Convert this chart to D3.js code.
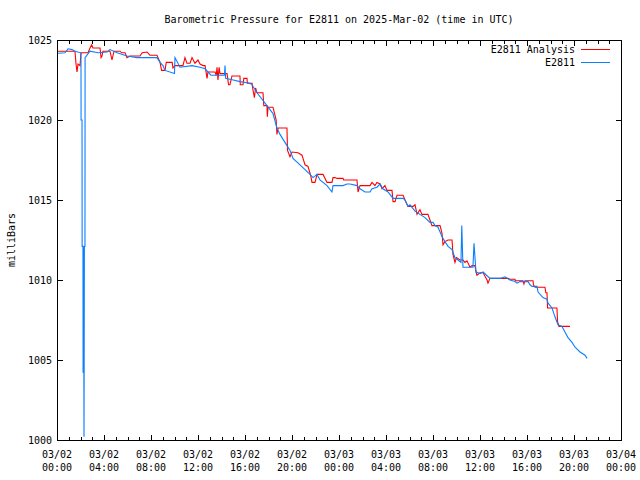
<!DOCTYPE html>
<html><head><meta charset="utf-8">
<script src="https://cdn.jsdelivr.net/npm/d3@7"></script>
<style>
body{margin:0;background:#fff;}
svg{display:block;}
text{font-family:"DejaVu Sans Mono","Liberation Mono",monospace;font-size:10px;fill:#000;}
</style></head>
<body>
<svg id="chart" width="640" height="480"></svg>
<script>
// ---- data ----
const title = "Barometric Pressure for E2811 on 2025-Mar-02 (time in UTC)";
const yLabel = "milliBars";
const seriesNames = ["E2811 Analysis", "E2811"];
const seriesColors = ["#ff0000", "#0a7fff"];
const yTicks = [1000, 1005, 1010, 1015, 1020, 1025];
const xTickHours = [0, 4, 8, 12, 16, 20, 24, 28, 32, 36, 40, 44, 48];
const xTickDates = ["03/02","03/02","03/02","03/02","03/02","03/02","03/03","03/03","03/03","03/03","03/03","03/03","03/04"];
const xTickTimes = ["00:00","04:00","08:00","12:00","16:00","20:00","00:00","04:00","08:00","12:00","16:00","20:00","00:00"];

// hours since 03/02 00:00 UTC, pressure mb
const analysisHours = [0.09,1.53,1.62,1.70,1.79,1.96,2.04,2.64,2.81,2.95,3.06,3.66,3.75,3.83,3.91,4.51,4.68,4.85,5.36,5.5,5.79,5.96,6.21,7.06,7.25,7.66,7.91,8.51,8.77,8.9,9.19,9.3,9.8,9.87,10.04,10.72,10.89,11.06,11.32,11.49,11.74,12.0,12.17,12.43,12.6,12.77,12.85,13.45,13.55,13.62,13.70,13.8,13.87,14.47,14.6,14.72,14.89,15.57,15.6,15.83,15.9,16.17,16.2,16.6,16.65,16.8,16.9,17.02,17.53,17.6,17.87,17.9,17.96,18.38,18.55,18.65,18.72,18.81,19.57,19.62,19.83,20.0,20.51,20.85,21.11,21.36,21.6,21.70,21.96,22.13,22.64,22.98,23.40,23.49,23.66,23.83,24.34,24.4,25.53,25.62,25.79,26.64,26.81,27.06,27.23,27.49,27.66,27.91,28.09,28.51,28.6,28.77,28.94,29.45,29.62,29.87,30.30,30.47,30.64,30.89,31.06,31.57,31.74,31.91,32.60,32.77,32.85,33.02,33.28,33.62,33.70,33.87,34.0,34.30,34.55,34.72,34.89,35.15,35.32,35.57,35.66,35.74,36.0,36.26,36.6,36.68,36.85,38.38,38.55,38.98,39.0,39.66,39.74,39.83,40.51,40.55,40.68,41.53,41.6,41.70,41.75,42.55,42.6,42.72,43.66];
const analysisValues = [1024.3,1024.3,1023.5,1023.0,1023.5,1023.4,1024.2,1024.2,1024.5,1024.7,1024.5,1024.5,1023.9,1024.0,1024.3,1024.3,1023.75,1024.3,1024.3,1024.2,1024.2,1023.9,1024.0,1024.0,1024.2,1024.25,1024.05,1024.05,1023.6,1023.1,1023.1,1023.6,1023.6,1023.25,1023.4,1023.4,1023.9,1023.55,1023.55,1023.9,1023.55,1023.75,1023.5,1023.4,1023.4,1022.6,1023.0,1023.0,1022.8,1023.3,1022.5,1023.3,1022.9,1022.9,1022.2,1022.2,1022.75,1022.75,1022.2,1022.2,1022.6,1022.6,1022.3,1022.3,1022.0,1021.4,1022.0,1021.7,1021.7,1020.9,1020.9,1020.2,1020.8,1020.8,1020.3,1020.0,1019.1,1019.5,1019.5,1018.1,1017.7,1018.0,1017.95,1017.8,1017.2,1017.1,1016.5,1016.1,1016.1,1016.6,1016.6,1016.1,1016.1,1016.4,1016.4,1016.35,1016.35,1016.25,1016.25,1015.5,1015.9,1015.9,1016.1,1015.9,1016.1,1016.0,1015.7,1015.9,1015.6,1015.6,1014.9,1014.9,1015.3,1015.3,1015.0,1014.6,1014.6,1014.7,1014.1,1014.4,1014.1,1014.1,1013.75,1013.4,1013.4,1012.9,1012.2,1012.4,1012.5,1012.5,1011.6,1011.1,1011.4,1011.25,1011.25,1011.1,1011.2,1010.8,1010.9,1010.9,1010.5,1010.3,1010.45,1010.45,1010.0,1009.8,1010.1,1010.1,1010.05,1010.05,1009.95,1009.95,1009.75,1009.95,1009.95,1009.7,1009.55,1009.55,1009.2,1009.2,1008.25,1008.25,1007.4,1007.1,1007.1];

const stationHours = [0.09,0.68,0.94,1.28,1.53,2.04,2.05,2.13,2.14,2.21,2.22,2.26,2.30,2.33,2.38,2.39,2.81,3.5,4.26,4.51,5.11,5.96,6.81,8.51,8.77,9.02,9.19,10.0,10.04,10.47,11.5,12.17,12.6,13.1,13.62,14.25,14.3,14.35,15.0,15.57,16.43,16.6,17.02,17.87,18.38,18.72,18.98,19.57,19.83,20.09,20.68,21.11,21.53,21.79,22.13,22.38,22.98,23.4,23.49,24.34,24.68,24.94,25.53,25.79,26.21,26.64,26.81,27.23,27.49,27.74,28.17,28.6,29.45,29.62,29.87,30.04,30.47,30.89,31.32,31.74,32.0,32.17,32.43,32.6,32.77,33.02,33.28,33.62,33.87,34.13,34.38,34.45,34.55,35.4,35.49,35.66,36.0,36.26,36.85,37.7,38.13,38.55,38.98,39.15,39.4,39.83,40.09,40.26,40.43,40.85,40.94,41.36,41.70,41.79,42.13,42.38,42.64,42.98,43.23,43.49,43.83,44.09,44.51,44.94,45.11];
const stationValues = [1024.17,1024.2,1024.45,1024.4,1024.3,1024.2,1020.0,1020.0,1012.1,1012.1,1004.2,1012.1,1000.2,1012.1,1012.1,1023.9,1024.3,1024.2,1024.25,1024.4,1024.2,1024.0,1023.9,1023.9,1023.6,1023.4,1023.1,1022.9,1023.9,1023.3,1023.4,1023.3,1023.2,1022.8,1022.8,1022.8,1023.4,1022.6,1022.5,1022.4,1022.3,1022.2,1021.7,1020.9,1020.4,1019.5,1019.1,1018.4,1018.1,1017.6,1017.2,1016.9,1016.6,1016.4,1016.6,1016.25,1015.9,1015.5,1015.9,1015.9,1016.0,1016.0,1015.9,1015.7,1015.5,1015.5,1015.7,1015.8,1016.0,1015.7,1015.5,1015.1,1015.1,1015.0,1014.6,1014.7,1014.3,1014.1,1013.9,1013.6,1013.6,1013.4,1013.3,1013.0,1012.7,1012.4,1012.1,1011.9,1011.4,1011.25,1011.1,1013.4,1010.8,1010.8,1012.3,1010.5,1010.4,1010.5,1010.1,1010.1,1010.2,1010.0,1009.9,1009.8,1009.9,1009.9,1009.9,1009.7,1009.6,1009.6,1009.25,1008.9,1008.8,1008.55,1008.25,1007.7,1007.2,1007.1,1006.75,1006.4,1006.1,1005.8,1005.5,1005.3,1005.1];

// ---- layout ----
const L = 57, R = 621, T = 40, B = 440;
const svg = d3.select("#chart");
const x = d3.scaleLinear().domain([0, 48]).range([L, R]);
const y = d3.scaleLinear().domain([1000, 1025]).range([B, T]);

svg.append("text").attr("x", 339).attr("y", 23).attr("text-anchor", "middle").text(title);
svg.append("text").attr("transform", "translate(15,240) rotate(-90)").attr("text-anchor", "middle").text(yLabel);

// frame
svg.append("rect").attr("x", L + 0.5).attr("y", T + 0.5).attr("width", R - L).attr("height", B - T)
  .attr("fill", "none").attr("stroke", "#000").attr("shape-rendering", "crispEdges");

const g = svg.append("g").attr("shape-rendering", "crispEdges").attr("stroke", "#000");
// x ticks: major each 4 h, minor each hour, mirrored on top
d3.range(0, 49).forEach(h => {
  const len = (h % 4 === 0) ? 5 : 3;
  const px = Math.round(x(h)) + 0.5;
  g.append("line").attr("x1", px).attr("x2", px).attr("y1", B).attr("y2", B - len);
  g.append("line").attr("x1", px).attr("x2", px).attr("y1", T + 1).attr("y2", T + 1 + len);
});
yTicks.forEach(v => {
  const py = Math.round(y(v)) + 0.5;
  g.append("line").attr("x1", L + 1).attr("x2", L + 6).attr("y1", py).attr("y2", py);
  g.append("line").attr("x1", R).attr("x2", R - 5).attr("y1", py).attr("y2", py);
  svg.append("text").attr("x", 52).attr("y", y(v) + 4).attr("text-anchor", "end").text(v);
});
xTickHours.forEach((h, i) => {
  svg.append("text").attr("x", x(h)).attr("y", 458).attr("text-anchor", "middle").text(xTickDates[i]);
  svg.append("text").attr("x", x(h)).attr("y", 471).attr("text-anchor", "middle").text(xTickTimes[i]);
});

// series
const line = d3.line().x(d => x(d[0])).y(d => y(d[1]));
const analysis = analysisHours.map((h, i) => [h, analysisValues[i]]);
const station = stationHours.map((h, i) => [h, stationValues[i]]);
svg.append("path").datum(analysis).attr("d", line).attr("fill", "none").attr("stroke", seriesColors[0])
  .attr("stroke-width", 1.1);
svg.append("path").datum(station).attr("d", line).attr("fill", "none").attr("stroke", seriesColors[1])
  .attr("stroke-width", 1.1);

// legend
seriesNames.forEach((n, i) => {
  const ly = 49 + i * 13;
  svg.append("text").attr("x", 575).attr("y", ly + 4).attr("text-anchor", "end").text(n);
  svg.append("rect").attr("x", 581).attr("y", ly).attr("width", 29).attr("height", 1)
    .attr("fill", seriesColors[i]).attr("shape-rendering", "crispEdges");
});
</script>
</body></html>
